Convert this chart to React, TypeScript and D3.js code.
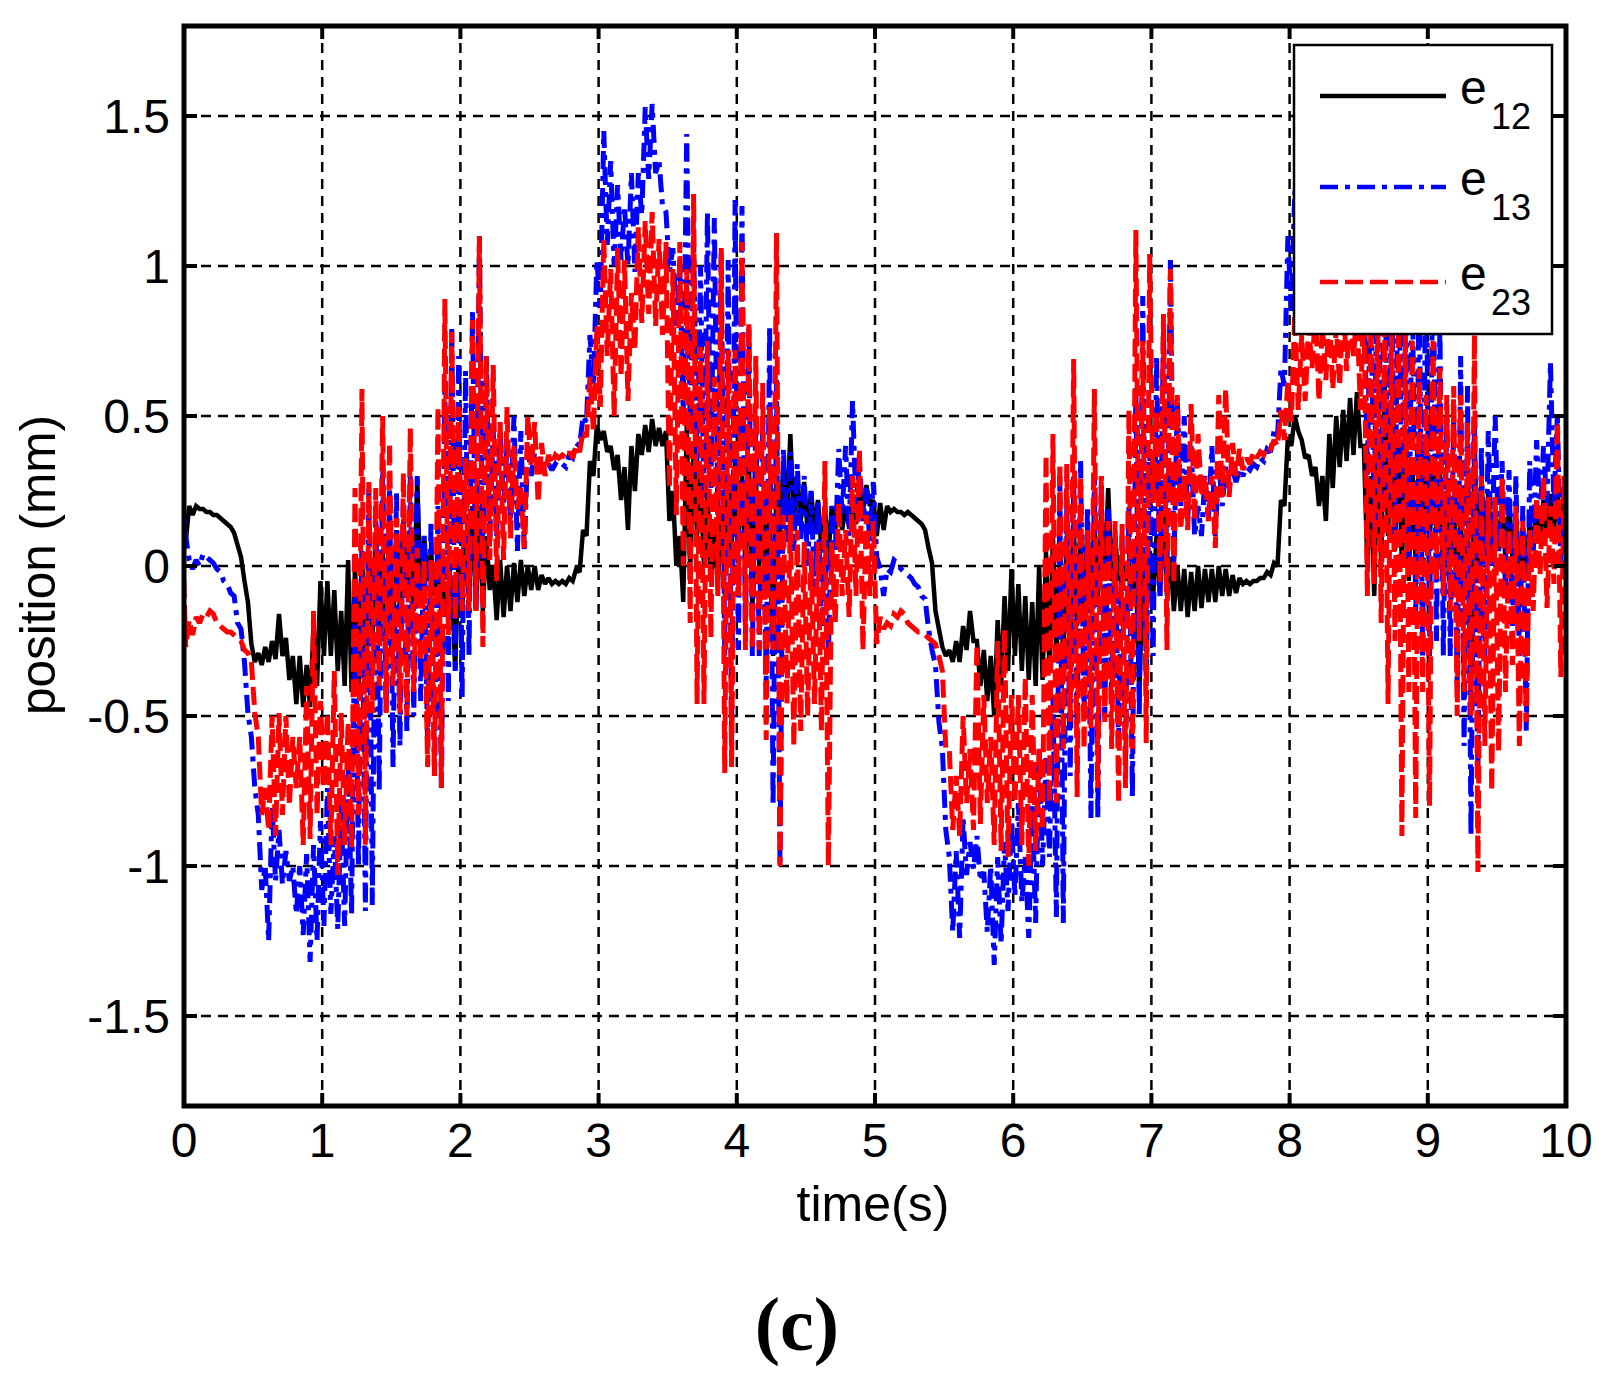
import * as d3 from "d3";
import { useEffect, useRef } from "react";

const W = 1611;
const H = 1379;
const LEFT = 184;
const RIGHT = 1566;
const TOP = 26;
const BOTTOM = 1106;

// sampling step of the hi/lo envelope readings (s)
const STEP = 0.05;

const X_TICKS = [0, 1, 2, 3, 4, 5, 6, 7, 8, 9, 10];
const Y_TICKS = [-1.5, -1, -0.5, 0, 0.5, 1, 1.5];
const Y_TICK_LABELS = ["-1.5", "-1", "-0.5", "0", "0.5", "1", "1.5"];

// [max, min] of each series inside every 0.05 s bin
const E12: [number, number][] = [
	[0.17, 0.08], [0.2, 0.17], [0.2, 0.19], [0.19, 0.18], [0.18, 0.17], [0.17, 0.16], [0.15, 0.14], [0.13, 0.11], [0.07, 0.03], [-0.05, -0.12],
	[-0.26, -0.32], [-0.29, -0.33], [-0.27, -0.32], [-0.25, -0.31], [-0.16, -0.3], [-0.24, -0.38], [-0.3, -0.46], [-0.3, -0.47], [-0.33, -0.47], [-0.2, -0.4],
	[-0.05, -0.3], [-0.05, -0.3], [-0.08, -0.35], [-0.15, -0.4], [0.02, -0.42], [0.0, -0.4], [0.05, -0.3], [0.05, -0.25], [0.1, -0.2], [0.05, -0.25],
	[0.1, -0.2], [0.12, -0.15], [0.15, -0.1], [0.12, -0.15], [0.29, -0.1], [0.1, -0.05], [0.05, -0.1], [0.0, -0.15], [-0.08, -0.18], [-0.05, -0.35],
	[0.05, -0.15], [0.1, -0.1], [0.2, -0.15], [0.2, -0.15], [0.1, -0.08], [0.0, -0.18], [0.02, -0.17], [0.0, -0.15], [0.01, -0.12], [0.02, -0.1],
	[0.0, -0.08], [0.0, -0.08], [-0.03, -0.06], [-0.04, -0.06], [-0.05, -0.06], [-0.05, -0.06], [-0.04, -0.05], [-0.01, -0.02], [0.12, 0.1], [0.35, 0.3],
	[0.47, 0.42], [0.45, 0.38], [0.4, 0.32], [0.37, 0.22], [0.33, 0.12], [0.4, 0.25], [0.44, 0.37], [0.47, 0.38], [0.49, 0.4], [0.46, 0.4],
	[0.45, 0.15], [0.25, 0.0], [0.1, -0.12], [0.47, -0.02], [0.4, 0.1], [0.3, 0.0], [0.25, -0.05], [0.15, -0.08], [0.2, 0.0], [0.3, 0.05],
	[0.35, 0.1], [0.3, 0.0], [0.35, -0.15], [0.3, 0.0], [0.25, -0.05], [0.2, -0.3], [0.3, 0.1], [0.35, 0.15], [0.44, 0.15], [0.3, 0.15],
	[0.28, 0.12], [0.25, 0.12], [0.22, 0.05], [0.2, 0.03], [0.2, 0.12], [0.2, 0.12], [0.2, 0.13], [0.22, 0.14], [0.25, 0.18], [0.27, 0.2],
	[0.22, 0.1], [0.21, 0.12], [0.2, 0.18], [0.19, 0.18], [0.18, 0.17], [0.18, 0.17], [0.16, 0.15], [0.14, 0.12], [0.06, 0.01], [-0.15, -0.21],
	[-0.27, -0.3], [-0.28, -0.32], [-0.25, -0.32], [-0.2, -0.28], [-0.15, -0.25], [-0.25, -0.4], [-0.28, -0.45], [-0.3, -0.5], [-0.18, -0.4], [-0.1, -0.35],
	[-0.01, -0.3], [-0.06, -0.35], [-0.1, -0.38], [-0.12, -0.4], [0.0, -0.38], [0.05, -0.35], [0.1, -0.3], [0.0, -0.3], [0.1, -0.25], [0.15, -0.2],
	[0.1, -0.2], [0.15, -0.15], [0.15, -0.1], [0.2, -0.05], [0.26, -0.05], [0.1, -0.05], [0.02, -0.05], [0.02, -0.08], [0.0, -0.44], [0.0, -0.15],
	[0.05, -0.1], [0.1, -0.1], [0.2, -0.1], [0.03, -0.15], [0.0, -0.15], [-0.01, -0.17], [-0.02, -0.15], [0.0, -0.14], [-0.01, -0.12], [-0.01, -0.12],
	[0.0, -0.1], [-0.01, -0.1], [-0.03, -0.09], [-0.04, -0.06], [-0.05, -0.06], [-0.05, -0.05], [-0.04, -0.04], [-0.02, -0.03], [0.01, 0.0], [0.22, 0.2],
	[0.43, 0.4], [0.5, 0.45], [0.42, 0.36], [0.37, 0.3], [0.33, 0.2], [0.3, 0.15], [0.44, 0.26], [0.5, 0.33], [0.52, 0.35], [0.56, 0.37],
	[0.58, 0.4], [0.4, 0.0], [0.3, -0.1], [0.45, 0.0], [0.6, 0.1], [0.55, 0.05], [0.45, 0.0], [0.4, -0.05], [0.35, 0.0], [0.4, 0.05],
	[0.35, 0.05], [0.37, 0.12], [0.33, -0.06], [0.25, 0.0], [0.2, -0.05], [0.15, -0.1], [0.1, -0.46], [0.41, -0.03], [0.3, 0.05], [0.25, 0.05],
	[0.2, 0.05], [0.2, 0.02], [0.19, 0.03], [0.18, -0.05], [0.12, -0.03], [0.15, 0.05], [0.2, 0.08], [0.22, 0.1], [0.24, 0.12], [0.26, 0.1],
	[0.25, 0.12],
];

const E13: [number, number][] = [
	[0.24, 0.1], [0.02, -0.01], [0.02, 0.0], [0.04, 0.03], [0.02, 0.01], [-0.01, -0.02], [-0.05, -0.06], [-0.09, -0.1], [-0.19, -0.21], [-0.32, -0.49],
	[-0.57, -0.74], [-0.83, -1.08], [-1.0, -1.25], [-0.8, -1.05], [-0.88, -1.06], [-0.95, -1.05], [-1.0, -1.16], [-1.0, -1.23], [-0.96, -1.32], [-0.93, -1.25],
	[-0.85, -1.2], [-0.74, -1.16], [-0.9, -1.21], [-0.8, -1.2], [-0.65, -1.16], [-0.06, -1.0], [0.05, -1.15], [0.26, -1.13], [0.2, -0.75], [0.36, -0.49],
	[0.26, -0.67], [0.25, -0.6], [0.2, -0.55], [0.3, -0.5], [0.3, -0.45], [0.1, -0.6], [0.15, -0.7], [0.2, -0.74], [0.6, -0.45], [0.8, -0.35],
	[0.7, -0.44], [0.65, -0.3], [0.85, -0.15], [1.1, -0.05], [0.7, 0.1], [0.45, 0.1], [0.45, 0.2], [0.4, 0.15], [0.5, 0.05], [0.45, 0.05],
	[0.4, 0.3], [0.38, 0.32], [0.35, 0.32], [0.34, 0.32], [0.34, 0.33], [0.34, 0.33], [0.37, 0.36], [0.41, 0.4], [0.5, 0.48], [0.77, 0.6],
	[1.02, 0.86], [1.45, 1.07], [1.35, 1.0], [1.27, 1.02], [1.2, 1.0], [1.31, 0.98], [1.31, 1.17], [1.53, 1.29], [1.54, 1.31], [1.35, 1.2],
	[1.18, 0.98], [1.06, 0.8], [1.0, 0.5], [1.44, 0.45], [1.1, 0.3], [1.0, 0.2], [1.18, 0.26], [1.16, 0.17], [1.05, -0.3], [1.02, -0.6],
	[1.22, -0.28], [1.2, -0.25], [0.8, -0.3], [0.5, -0.3], [0.5, -0.4], [0.8, -0.8], [0.62, -1.0], [0.39, 0.08], [0.38, 0.05], [0.34, 0.08],
	[0.3, 0.0], [0.25, -0.1], [0.22, -0.2], [0.1, -0.3], [0.2, 0.05], [0.39, 0.17], [0.4, 0.1], [0.55, 0.2], [0.35, 0.15], [0.26, 0.08],
	[0.28, 0.03], [-0.01, -0.1], [-0.01, -0.02], [0.02, 0.01], [-0.01, -0.02], [-0.03, -0.04], [-0.06, -0.07], [-0.1, -0.11], [-0.21, -0.28], [-0.33, -0.52],
	[-0.61, -0.88], [-0.97, -1.22], [-0.95, -1.24], [-0.84, -1.03], [-0.92, -1.01], [-0.9, -1.05], [-1.02, -1.22], [-1.0, -1.33], [-0.97, -1.26], [-0.92, -1.15],
	[-0.85, -1.1], [-0.79, -1.12], [-0.97, -1.24], [-0.79, -1.19], [-0.6, -1.0], [-0.64, -0.97], [-0.43, -1.17], [0.3, -1.19], [0.2, -0.7], [0.3, -0.55],
	[0.35, -0.5], [0.2, -0.84], [0.3, -0.84], [0.3, -0.5], [0.2, -0.45], [0.1, -0.6], [0.1, -0.65], [0.2, -0.77], [0.6, -0.5], [0.9, -0.4],
	[0.39, -0.3], [0.7, -0.1], [0.8, -0.05], [1.02, 0.0], [0.55, 0.2], [0.5, 0.15], [0.4, 0.1], [0.2, 0.1], [0.3, 0.15], [0.4, 0.1],
	[0.35, 0.2], [0.33, 0.26], [0.32, 0.28], [0.32, 0.3], [0.33, 0.32], [0.34, 0.33], [0.36, 0.35], [0.39, 0.38], [0.45, 0.43], [0.66, 0.6],
	[1.1, 0.85], [1.25, 0.9], [1.4, 1.0], [1.3, 0.95], [1.25, 0.95], [1.3, 0.9], [1.3, 1.1], [1.5, 1.25], [1.52, 1.3], [1.35, 1.15],
	[1.15, 0.9], [1.0, 0.3], [1.0, 0.1], [1.4, 0.2], [1.1, 0.2], [1.0, 0.1], [1.15, 0.2], [1.15, 0.0], [1.0, -0.2], [1.0, -0.3],
	[1.2, -0.3], [1.2, -0.25], [0.8, -0.3], [0.5, -0.3], [0.5, -0.4], [0.7, -0.6], [0.6, -0.9], [0.5, -0.7], [0.4, -0.3], [0.45, 0.0],
	[0.5, 0.05], [0.35, -0.1], [0.32, -0.2], [0.3, -0.3], [0.2, -0.55], [0.35, 0.05], [0.42, 0.15], [0.4, 0.2], [0.68, 0.2], [0.5, 0.0],
	[0.3, 0.05],
];

const E23: [number, number][] = [
	[0.12, -0.27], [-0.18, -0.23], [-0.17, -0.19], [-0.16, -0.17], [-0.15, -0.16], [-0.19, -0.2], [-0.21, -0.22], [-0.22, -0.23], [-0.24, -0.25], [-0.28, -0.29],
	[-0.32, -0.49], [-0.57, -0.83], [-0.74, -0.88], [-0.5, -0.9], [-0.49, -0.83], [-0.5, -0.8], [-0.57, -0.74], [-0.57, -0.93], [-0.4, -0.91], [-0.15, -0.83],
	[-0.45, -0.74], [-0.49, -0.93], [-0.35, -1.03], [-0.49, -0.93], [-0.52, -0.94], [0.26, -0.83], [0.59, -0.93], [0.28, -0.49], [0.26, -0.4], [0.5, -0.49],
	[0.41, -0.4], [0.16, -0.49], [0.31, -0.5], [0.46, -0.42], [0.06, -0.32], [0.02, -0.67], [0.02, -0.7], [0.53, -0.74], [0.89, -0.23], [0.78, -0.18],
	[0.53, -0.15], [0.36, -0.15], [0.82, -0.15], [1.1, -0.27], [0.7, 0.02], [0.67, -0.05], [0.48, 0.02], [0.53, 0.09], [0.4, 0.19], [0.26, 0.06],
	[0.5, 0.33], [0.48, 0.21], [0.41, 0.3], [0.37, 0.34], [0.37, 0.36], [0.37, 0.36], [0.38, 0.36], [0.4, 0.38], [0.45, 0.43], [0.63, 0.45],
	[0.8, 0.53], [1.09, 0.7], [0.99, 0.5], [1.06, 0.63], [1.02, 0.55], [0.91, 0.72], [1.13, 0.81], [1.15, 0.84], [1.18, 0.8], [1.09, 0.77],
	[1.08, 0.26], [0.99, 0.17], [1.08, 0.0], [0.99, -0.19], [1.24, -0.46], [0.73, -0.46], [0.75, -0.24], [0.63, -0.1], [1.06, -0.69], [0.72, -0.67],
	[0.72, -0.1], [1.08, -0.28], [0.81, -0.28], [0.7, -0.28], [0.61, -0.58], [0.53, -0.28], [1.11, -1.0], [0.17, -0.46], [0.17, -0.6], [0.12, -0.55],
	[0.08, -0.5], [0.05, -0.46], [0.08, -0.55], [0.35, -1.0], [0.08, -0.19], [0.21, -0.1], [0.12, -0.17], [0.3, -0.1], [0.39, -0.28], [0.17, -0.1],
	[0.15, -0.26], [-0.17, -0.21], [-0.19, -0.2], [-0.16, -0.17], [-0.15, -0.16], [-0.19, -0.2], [-0.21, -0.22], [-0.22, -0.23], [-0.24, -0.25], [-0.26, -0.3],
	[-0.35, -0.61], [-0.61, -0.88], [-0.7, -0.9], [-0.5, -0.79], [-0.61, -0.88], [-0.26, -0.86], [-0.43, -0.79], [-0.57, -0.93], [-0.25, -0.95], [-0.21, -0.97],
	[-0.43, -0.79], [-0.43, -0.93], [-0.37, -1.0], [-0.43, -0.95], [-0.61, -0.88], [0.37, -0.79], [0.44, -0.79], [0.34, -0.61], [0.34, -0.52], [0.69, -0.77],
	[0.3, -0.61], [0.12, -0.54], [0.59, -0.74], [0.3, -0.52], [0.15, -0.61], [0.15, -0.79], [0.14, -0.74], [0.52, -0.61], [1.12, -0.25], [0.75, -0.59],
	[1.04, 0.21], [0.52, -0.06], [0.84, -0.28], [0.99, -0.06], [0.57, 0.12], [0.3, 0.12], [0.54, 0.15], [0.44, 0.23], [0.3, 0.15], [0.3, 0.06],
	[0.57, 0.23], [0.59, 0.23], [0.41, 0.3], [0.39, 0.32], [0.36, 0.34], [0.38, 0.36], [0.38, 0.37], [0.4, 0.39], [0.42, 0.4], [0.52, 0.42],
	[0.62, 0.48], [0.84, 0.52], [0.77, 0.55], [0.8, 0.66], [0.85, 0.55], [0.8, 0.62], [0.85, 0.59], [0.8, 0.6], [0.9, 0.65], [0.85, 0.7],
	[0.85, 0.52], [0.9, -0.1], [0.8, -0.06], [0.85, -0.19], [0.8, -0.46], [0.8, -0.25], [0.8, -0.9], [0.8, -0.42], [0.75, -0.84], [0.66, -0.42],
	[0.57, -0.8], [0.75, -0.05], [0.66, -0.1], [0.57, -0.15], [0.6, -0.5], [0.57, -0.42], [0.48, -0.5], [0.77, -1.02], [0.3, -0.6], [0.23, -0.75],
	[0.23, -0.62], [0.3, -0.42], [0.12, -0.33], [0.2, -0.6], [0.15, -0.52], [0.12, -0.15], [0.23, -0.03], [0.3, -0.14], [0.2, -0.06], [0.48, -0.37],
	[0.3, -0.15],
];

const SERIES = [
	{ key: "12", data: E12, color: "#000000", dash: null as string | null, width: 4.5 },
	{ key: "13", data: E13, color: "#0000ff", dash: "18,7,5,7", width: 5 },
	{ key: "23", data: E23, color: "#ff0000", dash: "18,7", width: 5 },
];

const FONT = "'Liberation Sans', Arial, Helvetica, sans-serif";

export default function App() {
	const svgRef = useRef<SVGSVGElement>(null);

	useEffect(() => {
		const svg = svgRef.current;
		if (!svg) return;
		const sel = d3.select(svg);
		sel.selectAll("*").remove();

		const x = d3.scaleLinear().domain([0, 10]).range([LEFT, RIGHT]);
		const y = d3.scaleLinear().domain([-1.8, 1.8]).range([BOTTOM, TOP]);

		sel.append("rect").attr("width", W).attr("height", H).attr("fill", "#fff");

		sel.append("defs")
			.append("clipPath")
			.attr("id", "plot-clip")
			.append("rect")
			.attr("x", LEFT)
			.attr("y", TOP)
			.attr("width", RIGHT - LEFT)
			.attr("height", BOTTOM - TOP);

		// grid
		const grid = sel.append("g").attr("stroke", "#000").attr("stroke-width", 2.5).attr("stroke-dasharray", "10,7");
		X_TICKS.slice(1, -1).forEach((t) => {
			grid.append("line").attr("x1", x(t)).attr("x2", x(t)).attr("y1", TOP).attr("y2", BOTTOM);
		});
		Y_TICKS.forEach((v) => {
			grid.append("line").attr("x1", LEFT).attr("x2", RIGHT).attr("y1", y(v)).attr("y2", y(v));
		});

		// series: each bin drawn from its max to its min
		const line = d3
			.line<[number, number]>()
			.x((d) => x(d[0]))
			.y((d) => y(d[1]));

		const plot = sel.append("g").attr("clip-path", "url(#plot-clip)");
		SERIES.forEach((s) => {
			const pts: [number, number][] = s.data.flatMap(([hi, lo], i) => [
				[i * STEP - STEP / 4, hi] as [number, number],
				[i * STEP + STEP / 4, lo] as [number, number],
			]);
			const p = plot
				.append("path")
				.datum(pts)
				.attr("d", line)
				.attr("fill", "none")
				.attr("stroke", s.color)
				.attr("stroke-width", s.width)
				.attr("stroke-linejoin", "miter")
				.attr("stroke-miterlimit", 2);
			if (s.dash) p.attr("stroke-dasharray", s.dash);
		});

		// ticks, all four sides, inward
		const ticks = sel.append("g").attr("stroke", "#000").attr("stroke-width", 4);
		X_TICKS.forEach((t) => {
			ticks.append("line").attr("x1", x(t)).attr("x2", x(t)).attr("y1", BOTTOM).attr("y2", BOTTOM - 13);
			ticks.append("line").attr("x1", x(t)).attr("x2", x(t)).attr("y1", TOP).attr("y2", TOP + 13);
		});
		Y_TICKS.forEach((v) => {
			ticks.append("line").attr("x1", LEFT).attr("x2", LEFT + 13).attr("y1", y(v)).attr("y2", y(v));
			ticks.append("line").attr("x1", RIGHT).attr("x2", RIGHT - 13).attr("y1", y(v)).attr("y2", y(v));
		});

		// frame
		sel.append("rect")
			.attr("x", LEFT)
			.attr("y", TOP)
			.attr("width", RIGHT - LEFT)
			.attr("height", BOTTOM - TOP)
			.attr("fill", "none")
			.attr("stroke", "#000")
			.attr("stroke-width", 5);

		// tick labels
		const labels = sel.append("g").attr("font-family", FONT).attr("font-size", 48).attr("fill", "#000");
		X_TICKS.forEach((t) => {
			labels.append("text").attr("x", x(t)).attr("y", 1157).attr("text-anchor", "middle").text(String(t));
		});
		Y_TICKS.forEach((v, i) => {
			labels
				.append("text")
				.attr("x", 170)
				.attr("y", y(v) + 17)
				.attr("text-anchor", "end")
				.text(Y_TICK_LABELS[i]);
		});

		// axis titles
		sel.append("text")
			.attr("x", 873)
			.attr("y", 1221)
			.attr("text-anchor", "middle")
			.attr("font-family", FONT)
			.attr("font-size", 50)
			.text("time(s)");

		sel.append("text")
			.attr("transform", "translate(55,565) rotate(-90)")
			.attr("text-anchor", "middle")
			.attr("font-family", FONT)
			.attr("font-size", 50)
			.attr("textLength", 300)
			.attr("lengthAdjust", "spacingAndGlyphs")
			.text("position (mm)");

		// legend
		const lg = sel.append("g");
		lg.append("rect")
			.attr("x", 1294)
			.attr("y", 45)
			.attr("width", 258)
			.attr("height", 289)
			.attr("fill", "#fff")
			.attr("stroke", "#000")
			.attr("stroke-width", 2.5);
		const rows = [96, 187, 282];
		SERIES.forEach((s, i) => {
			const ly = rows[i];
			const l = lg
				.append("line")
				.attr("x1", 1320)
				.attr("x2", 1446)
				.attr("y1", ly)
				.attr("y2", ly)
				.attr("stroke", s.color)
				.attr("stroke-width", 4.5);
			if (s.dash) l.attr("stroke-dasharray", s.dash);
			lg.append("text")
				.attr("x", 1460)
				.attr("y", ly + 8)
				.attr("font-family", FONT)
				.attr("font-size", 48)
				.text("e");
			lg.append("text")
				.attr("x", 1491)
				.attr("y", ly + 33)
				.attr("font-family", FONT)
				.attr("font-size", 36)
				.text(s.key);
		});

		// panel caption
		sel.append("text")
			.attr("x", 797)
			.attr("y", 1350)
			.attr("text-anchor", "middle")
			.attr("font-family", "'Liberation Serif', 'Times New Roman', serif")
			.attr("font-weight", "bold")
			.attr("font-size", 76)
			.text("(c)");
	}, []);

	return (
		<svg
			ref={svgRef}
			width={W}
			height={H}
			viewBox={`0 0 ${W} ${H}`}
			style={{ position: "absolute", left: 0, top: 0, display: "block" }}
		/>
	);
}
